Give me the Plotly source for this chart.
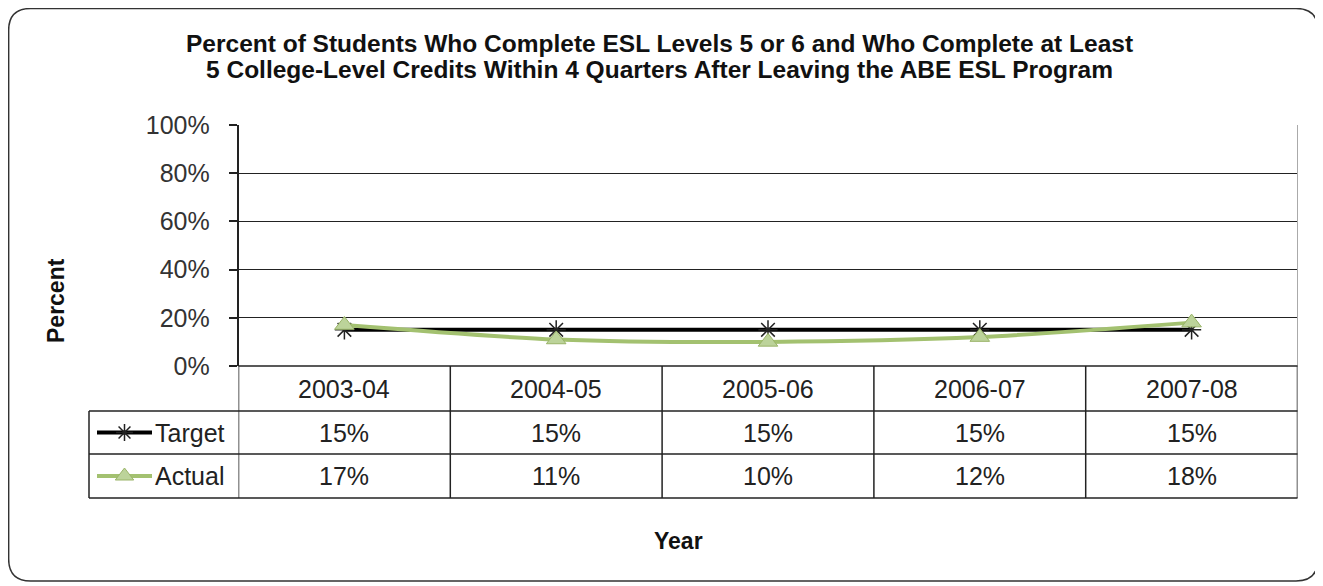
import plotly.graph_objects as go

# ---- data ----
years = ["2003-04", "2004-05", "2005-06", "2006-07", "2007-08"]
target = [0.15, 0.15, 0.15, 0.15, 0.15]
actual = [0.17, 0.11, 0.10, 0.12, 0.18]
series_names = ["Target", "Actual"]
y_ticks = [0, 0.2, 0.4, 0.6, 0.8, 1.0]
y_tick_labels = ["0%", "20%", "40%", "60%", "80%", "100%"]
title_lines = ["Percent of Students Who Complete ESL Levels 5 or 6 and Who Complete at Least",
               "5 College-Level Credits Within 4 Quarters After Leaving the ABE ESL Program"]

# page body margin compensation
OX, OY = 8, 8
W, H = 1323 - OX, 586 - OY
def px(x): return (x - OX) / W
def py(y): return 1 - (y - OY) / H

# pixel geometry (in reference image pixels)
PL, PR, PT, PB = 238.5, 1297.5, 125, 366
ROW1, ROW2, ROW3 = 411, 454, 498
LEGL = 89

FONT = "Liberation Sans, Arial, sans-serif"
TARGET_C = "#000000"
ACTUAL_C = "#a3c170"
ACTUAL_FILL = "#bcd39a"
MK_T = dict(symbol="asterisk-open", size=16, color="#222", line=dict(color="#222", width=1.5))
MK_A = dict(symbol="triangle-up", size=17, color=ACTUAL_FILL, line=dict(color="#9ab468", width=1))

fig = go.Figure()

fig.add_trace(go.Scatter(
    x=years, y=target, mode="lines+markers", name=series_names[0],
    line=dict(color=TARGET_C, width=4), marker=MK_T,
    xaxis="x", yaxis="y", cliponaxis=False, showlegend=False))
fig.add_trace(go.Scatter(
    x=years, y=actual, mode="lines+markers", name=series_names[1],
    line=dict(color=ACTUAL_C, width=4, shape="spline", smoothing=0.8), marker=MK_A,
    xaxis="x", yaxis="y", cliponaxis=False, showlegend=False))

# legend glyphs inside the table's first column (small helper axes)
rows = [(ROW1, ROW2), (ROW2, ROW3)]
glyphs = [
    (dict(color=TARGET_C, width=4), dict(MK_T, size=14)),
    (dict(color=ACTUAL_C, width=4), dict(MK_A, size=16)),
]
for i, (r0, r1) in enumerate(rows):
    ax = str(i + 2)
    fig.add_trace(go.Scatter(x=[0, 1], y=[0.5, 0.5], mode="lines", line=glyphs[i][0],
                             xaxis="x" + ax, yaxis="y" + ax, showlegend=False, hoverinfo="skip"))
    fig.add_trace(go.Scatter(x=[0.5], y=[0.5], mode="markers", marker=glyphs[i][1],
                             xaxis="x" + ax, yaxis="y" + ax, showlegend=False, cliponaxis=False,
                             hoverinfo="skip"))
    fig.update_layout(**{
        "xaxis" + ax: dict(domain=[px(97), px(152)], range=[0, 1], visible=False, fixedrange=True),
        "yaxis" + ax: dict(domain=[py(r1), py(r0)], range=[0, 1], visible=False, fixedrange=True,
                           anchor="x" + ax),
    })

shapes = []
# rounded outer border
x0, y0, x1, y1, r = max(px(7), 0.0005), py(8.5), px(1318), py(581), 22
rx, ry = r / W, r / H
path = (f"M {x0+rx},{y0} L {x1-rx},{y0} Q {x1},{y0} {x1},{y0-ry} "
        f"L {x1},{y1+ry} Q {x1},{y1} {x1-rx},{y1} L {x0+rx},{y1} "
        f"Q {x0},{y1} {x0},{y1+ry} L {x0},{y0-ry} Q {x0},{y0} {x0+rx},{y0} Z")
shapes.append(dict(type="path", path=path, xref="paper", yref="paper",
                   line=dict(color="#333", width=1.5)))

LC = "#222"
# plot area right edge (light)
shapes.append(dict(type="line", xref="paper", yref="paper", x0=px(PR), x1=px(PR),
                   y0=py(PT), y1=py(PB), line=dict(color="#aaa", width=1)))
# table horizontal lines
shapes.append(dict(type="line", xref="paper", yref="paper", x0=px(PL), x1=px(PR),
                   y0=py(PB), y1=py(PB), line=dict(color=LC, width=1.5)))
for yy in (ROW1, ROW2, ROW3):
    shapes.append(dict(type="line", xref="paper", yref="paper", x0=px(LEGL), x1=px(PR),
                       y0=py(yy), y1=py(yy), line=dict(color=LC, width=1.5)))
# left border of legend column
shapes.append(dict(type="line", xref="paper", yref="paper", x0=px(LEGL), x1=px(LEGL),
                   y0=py(ROW1), y1=py(ROW3), line=dict(color=LC, width=1.5)))
# category boundaries via the category axis
for k in range(len(years) + 1):
    shapes.append(dict(type="line", xref="x", yref="paper", x0=k - 0.5, x1=k - 0.5,
                       y0=py(PB), y1=py(ROW3), line=dict(color=LC, width=1.5)))

annotations = []
TF = dict(family=FONT, size=25, color="#222")
for j, yr in enumerate(years):
    annotations.append(dict(x=j, y=py((PB + ROW1) / 2), xref="x", yref="paper", text=yr,
                            showarrow=False, font=TF, xanchor="center", yanchor="middle"))
for i, vals in enumerate([target, actual]):
    r0, r1 = rows[i]
    for j, v in enumerate(vals):
        annotations.append(dict(x=j, y=py((r0 + r1) / 2), xref="x", yref="paper",
                                text=f"{round(v*100)}%", showarrow=False, font=TF,
                                xanchor="center", yanchor="middle"))
    annotations.append(dict(x=px(153), y=py((r0 + r1) / 2), xref="paper", yref="paper",
                            text=series_names[i], showarrow=False, font=TF,
                            xanchor="left", yanchor="middle"))

BF = dict(family=FONT, size=24.5, color="#111")
for i, t in enumerate(title_lines):
    annotations.append(dict(x=px(659), y=py(43 + 27 * i), xref="paper", yref="paper", text=f"<b>{t}</b>",
                            showarrow=False, font=BF, xanchor="center", yanchor="middle"))
annotations.append(dict(x=px(56), y=py(301), xref="paper", yref="paper", text="<b>Percent</b>",
                        textangle=-90, showarrow=False, font=dict(BF, size=23), xanchor="center", yanchor="middle"))
annotations.append(dict(x=px(678), y=py(541), xref="paper", yref="paper", text="<b>Year</b>",
                        showarrow=False, font=dict(BF, size=23), xanchor="center", yanchor="middle"))

fig.update_layout(
    width=W, height=H, margin=dict(l=0, r=0, t=0, b=0, pad=0, autoexpand=False),
    paper_bgcolor="white", plot_bgcolor="white",
    xaxis=dict(domain=[px(PL), px(PR)], type="category", range=[-0.5, len(years) - 0.5],
               showticklabels=False, ticks="", showgrid=False, zeroline=False, showline=False,
               fixedrange=True),
    yaxis=dict(domain=[py(PB), py(PT)], range=[0, 1], tickvals=y_ticks, ticktext=y_tick_labels,
               ticks="outside", ticklen=8, tickcolor=LC, tickwidth=1.5,
               showgrid=True, gridcolor=LC, gridwidth=1.2, zeroline=False,
               showline=True, linecolor=LC, linewidth=1.5,
               tickfont=dict(family=FONT, size=25, color="#333"), ticklabelstandoff=14,
               fixedrange=True),
    shapes=shapes, annotations=annotations, showlegend=False,
)

fig.write_html("out.html")
